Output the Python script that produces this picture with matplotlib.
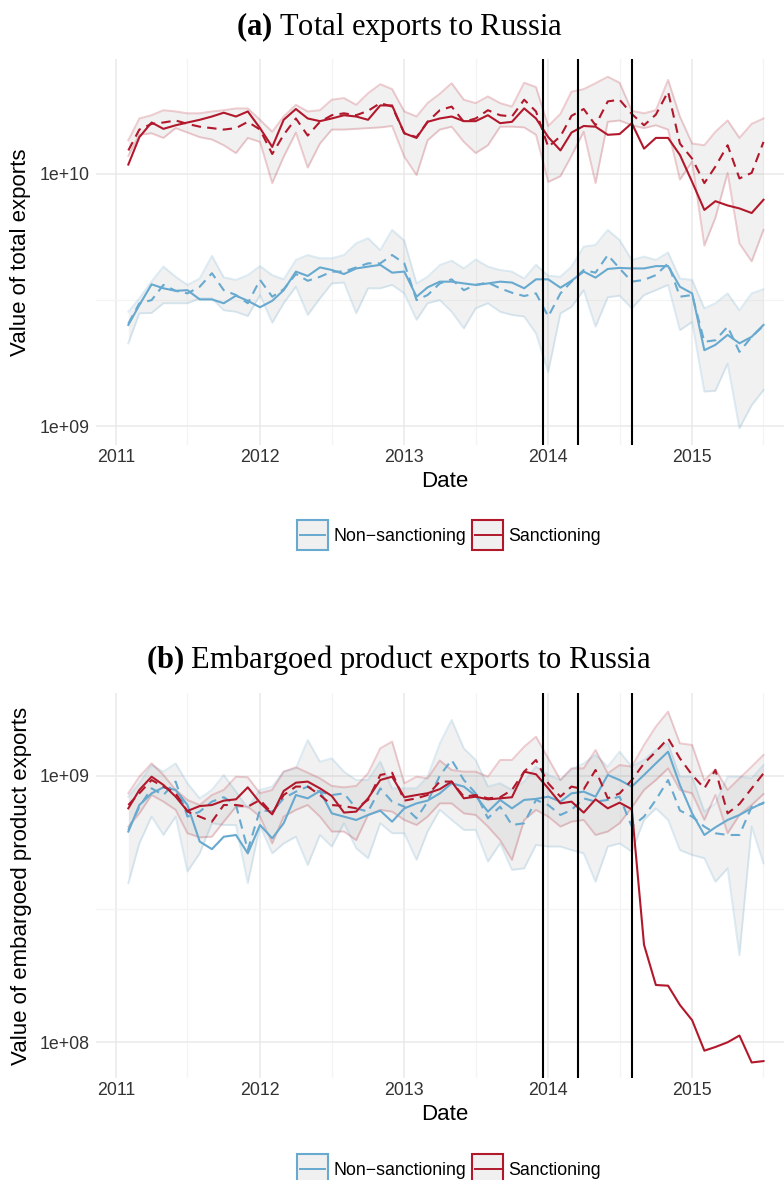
import matplotlib
matplotlib.use("Agg")
import matplotlib.pyplot as plt
import matplotlib.dates as mdates
from matplotlib.patches import Patch, Rectangle
from matplotlib.lines import Line2D
from matplotlib.legend_handler import HandlerBase
from matplotlib.ticker import FixedLocator, NullFormatter
import numpy as np
import pandas as pd

# ---------------- data ----------------
# monthly observations, Feb 2011 .. Jul 2015
dates = pd.date_range("2011-02-01", periods=54, freq="MS")

# panel (a) total exports, billions USD
tot_sanc = [10.9, 14.0, 16.0, 15.1, 15.6, 16.0, 16.4, 16.9, 17.5, 16.9,
            17.7, 15.2, 12.8, 16.4, 18.1, 16.6, 16.2, 16.6, 17.1, 16.9,
            16.4, 18.7, 18.7, 14.5, 13.9, 16.1, 16.6, 16.9, 16.2, 16.2,
            17.1, 15.9, 16.1, 18.2, 16.6, 14.0, 12.4, 14.6, 15.5, 15.4,
            14.3, 14.4, 15.9, 12.6, 13.9, 13.9, 11.9, 9.3, 7.2, 7.8,
            7.5, 7.3, 7.0, 7.9]
tot_sanc_cf = [12.4, 15.0, 15.8, 16.0, 16.3, 15.8, 15.4, 15.2, 15.0, 15.2,
               16.1, 15.0, 12.0, 14.3, 16.6, 14.2, 16.1, 17.1, 17.4, 17.1,
               17.8, 19.1, 18.5, 14.5, 14.0, 16.1, 17.9, 18.5, 16.1, 16.6,
               17.9, 17.1, 16.9, 19.7, 17.7, 12.8, 14.1, 17.0, 18.1, 15.6,
               19.4, 19.7, 17.3, 15.6, 17.2, 21.2, 13.2, 11.5, 9.2, 10.7,
               13.0, 9.6, 10.1, 13.4]
tot_sanc_hi = [13.6, 16.6, 17.1, 17.9, 17.7, 17.4, 17.4, 17.7, 17.9, 18.2,
               18.2, 16.4, 14.7, 16.9, 18.8, 17.7, 17.9, 19.7, 20.0, 18.8,
               20.9, 22.7, 21.7, 17.7, 16.9, 19.1, 20.8, 22.9, 19.7, 19.1,
               20.3, 19.1, 18.5, 23.0, 22.1, 15.5, 17.3, 21.2, 21.7, 22.9,
               24.3, 23.0, 17.8, 17.4, 17.9, 23.6, 16.9, 13.2, 13.0, 14.7,
               16.3, 13.9, 15.8, 16.6]
tot_sanc_lo = [11.8, 14.3, 14.5, 13.9, 15.2, 14.6, 14.0, 13.7, 13.0, 12.1,
               13.9, 13.4, 9.2, 11.7, 14.6, 10.6, 13.2, 15.0, 15.0, 15.1,
               15.2, 15.3, 15.5, 11.7, 9.9, 13.6, 15.0, 15.4, 13.4, 12.1,
               13.0, 15.4, 15.4, 15.3, 14.3, 9.3, 9.8, 11.8, 14.7, 9.2,
               16.1, 16.3, 15.6, 15.2, 15.6, 15.0, 9.5, 11.2, 5.2, 6.7,
               10.1, 5.3, 4.5, 6.0]
tot_non = [2.52, 3.02, 3.65, 3.52, 3.44, 3.46, 3.18, 3.18, 3.07, 3.29,
           3.14, 2.96, 3.14, 3.46, 4.10, 3.94, 4.26, 4.16, 4.01, 4.22,
           4.29, 4.36, 4.06, 4.10, 3.26, 3.55, 3.74, 3.74, 3.68, 3.63,
           3.68, 3.74, 3.71, 3.52, 3.82, 3.82, 3.54, 3.77, 4.10, 3.88,
           4.20, 4.24, 4.22, 4.22, 4.31, 4.31, 3.57, 3.36, 2.00, 2.10,
           2.30, 2.13, 2.26, 2.52]
tot_non_cf = [2.55, 3.07, 3.16, 3.63, 3.44, 3.36, 3.57, 4.04, 3.46, 3.31,
              3.07, 3.80, 3.26, 3.49, 4.01, 3.77, 3.91, 4.10, 4.10, 4.26,
              4.42, 4.42, 4.77, 4.42, 3.16, 3.31, 3.68, 3.82, 3.46, 3.63,
              3.71, 3.52, 3.38, 3.28, 3.36, 2.72, 3.36, 3.74, 4.16, 4.06,
              4.77, 4.22, 3.74, 3.80, 3.97, 4.42, 3.26, 3.31, 2.16, 2.19,
              2.48, 1.97, 2.26, 2.50]
tot_non_hi = [2.84, 3.21, 3.75, 4.29, 3.91, 3.63, 3.85, 4.73, 3.89, 3.80,
              3.97, 4.31, 3.97, 3.82, 4.56, 4.77, 4.63, 4.63, 4.77, 5.31,
              5.56, 4.99, 6.00, 5.44, 3.68, 3.91, 4.35, 4.53, 4.22, 4.58,
              4.29, 4.16, 4.10, 3.85, 4.36, 3.95, 3.91, 4.29, 5.15, 5.23,
              6.00, 5.47, 4.56, 4.70, 4.56, 4.88, 3.85, 3.80, 2.93, 3.07,
              3.36, 2.88, 3.36, 3.49]
tot_non_lo = [2.13, 2.80, 2.81, 3.07, 3.07, 3.07, 3.21, 3.21, 2.88, 2.84,
              2.73, 3.31, 2.57, 3.07, 3.57, 2.76, 3.21, 3.68, 3.71, 2.80,
              3.52, 3.52, 3.63, 3.36, 2.64, 3.07, 3.16, 2.84, 2.44, 2.93,
              3.07, 2.84, 2.76, 2.72, 2.33, 1.64, 2.80, 2.97, 3.46, 2.48,
              3.24, 3.29, 2.93, 3.31, 3.46, 3.63, 2.40, 2.59, 1.37, 1.38,
              1.77, 0.98, 1.21, 1.39]

# panel (b) embargoed product exports, millions USD
emb_sanc = [754, 884, 991, 923, 834, 737, 769, 776, 806, 815,
            904, 792, 716, 876, 941, 950, 896, 839, 727, 733,
            822, 963, 991, 830, 846, 859, 890, 950, 822, 834,
            815, 822, 830, 1035, 1012, 896, 787, 799, 727, 815,
            754, 792, 748, 232, 164, 163, 138, 121, 93, 96,
            100, 106, 84, 85]
emb_sanc_cf = [776, 859, 963, 910, 859, 733, 702, 672, 776, 776,
               765, 811, 722, 846, 910, 910, 846, 776, 769, 754,
               811, 1006, 1026, 806, 822, 846, 950, 950, 834, 846,
               822, 830, 884, 1035, 1145, 936, 834, 910, 889, 1050,
               822, 858, 963, 1112, 1230, 1380, 1161, 1006, 896, 1050,
               722, 783, 896, 1020]
emb_sanc_hi = [859, 991, 1112, 1006, 884, 811, 776, 846, 884, 991,
               986, 859, 884, 1035, 1075, 1026, 977, 915, 904, 915,
               1020, 1266, 1342, 936, 991, 977, 1140, 1050, 1035, 1035,
               991, 1145, 1145, 1284, 1400, 1161, 963, 1065, 1065, 1248,
               1020, 1096, 1081, 1303, 1527, 1738, 1322, 1303, 960, 1056,
               884, 977, 1081, 1196]
emb_sanc_lo = [644, 722, 846, 799, 744, 608, 587, 590, 672, 765,
               765, 702, 557, 702, 744, 776, 702, 617, 617, 573,
               712, 744, 733, 682, 653, 702, 787, 787, 722, 712,
               644, 573, 483, 682, 744, 702, 644, 672, 682, 599,
               617, 663, 760, 884, 963, 1065, 884, 858, 682, 846,
               608, 712, 776, 853]
emb_non = [617, 776, 858, 904, 884, 776, 566, 530, 590, 599,
           511, 653, 582, 663, 846, 822, 876, 722, 702, 682,
           712, 739, 672, 754, 787, 806, 858, 936, 910, 839,
           733, 811, 754, 811, 818, 834, 799, 858, 871, 834,
           1006, 963, 910, 1006, 1112, 1230, 923, 722, 599, 640,
           682, 712, 754, 792]
emb_non_cf = [626, 765, 896, 846, 950, 702, 733, 799, 830, 776,
              526, 744, 733, 822, 871, 910, 871, 846, 858, 754,
              733, 896, 799, 765, 692, 799, 1000, 1145, 963, 858,
              692, 765, 653, 663, 811, 776, 712, 744, 822, 799,
              811, 834, 644, 702, 811, 963, 740, 702, 644, 608,
              599, 599, 765, 787]
emb_non_hi = [834, 936, 1096, 1035, 1112, 936, 822, 884, 1006, 871,
              754, 884, 910, 1035, 1065, 1361, 1128, 1161, 1035, 963,
              963, 1128, 896, 896, 896, 991, 1320, 1617, 1266, 1145,
              910, 936, 884, 950, 1081, 1006, 963, 1056, 1112, 1196,
              1081, 1230, 1081, 1145, 1248, 1322, 991, 991, 733, 787,
              991, 991, 977, 1096]
emb_non_lo = [395, 557, 702, 599, 702, 437, 511, 663, 653, 653,
              395, 648, 511, 557, 590, 462, 599, 542, 663, 534,
              490, 663, 608, 608, 483, 617, 744, 682, 626, 626,
              476, 557, 443, 449, 550, 542, 542, 526, 511, 400,
              542, 557, 519, 682, 754, 682, 526, 504, 490, 400,
              449, 212, 644, 469]

event_dates = ["2013-12-18", "2014-03-17", "2014-08-01"]
group_labels = ["Non\u2212sanctioning", "Sanctioning"]

BLUE = "#67a9cf"
RED = "#b2182b"

plt.rcParams["font.family"] = ["Liberation Sans", "DejaVu Sans"]
plt.rcParams["mathtext.fontset"] = "custom"
plt.rcParams["mathtext.rm"] = "Liberation Serif"
plt.rcParams["mathtext.bf"] = "Liberation Serif:bold"

W, H = 784, 1180
fig = plt.figure(figsize=(W / 100, H / 100), dpi=100)


class BoxKey(HandlerBase):
    """ggplot-style key: grey box with coloured border and a line through the middle."""

    def create_artists(self, legend, orig_handle, xdescent, ydescent,
                       width, height, fontsize, trans):
        col = orig_handle.get_edgecolor()
        box = Rectangle((-xdescent, -ydescent), width, height,
                        facecolor="#f0f0f0", edgecolor=col, lw=1.5, transform=trans)
        yc = -ydescent + height / 2
        ln = Line2D([-xdescent + 2, -xdescent + width - 2], [yc, yc],
                    color=col, lw=1.4, transform=trans)
        return [box, ln]


def px_rect(left, top, right, bottom):
    return [left / W, 1 - bottom / H, (right - left) / W, (bottom - top) / H]


def draw_panel(ax, groups, scale, ylims, yticks, ylabels, yminor):
    for lo, hi, mid, cf, col in groups:
        lo = np.asarray(lo) * scale
        hi = np.asarray(hi) * scale
        ax.fill_between(dates, lo, hi, color="#7f7f7f", alpha=0.1, lw=0, zorder=2)
        ax.plot(dates, lo, color=col, alpha=0.22, lw=1.4, zorder=3)
        ax.plot(dates, hi, color=col, alpha=0.22, lw=1.4, zorder=3)
    for lo, hi, mid, cf, col in groups:
        ax.plot(dates, np.asarray(mid) * scale, color=col, lw=1.5, zorder=4)
        ax.plot(dates, np.asarray(cf) * scale, color=col, lw=1.5,
                dashes=(4.5, 3), zorder=4)
    for d in event_dates:
        ax.axvline(pd.Timestamp(d), color="black", lw=1.5, zorder=5)

    ax.set_yscale("log")
    ax.set_ylim(*ylims)
    ax.yaxis.set_major_locator(FixedLocator(yticks))
    ax.set_yticklabels(ylabels)
    ax.yaxis.set_minor_locator(FixedLocator(yminor))
    ax.yaxis.set_minor_formatter(NullFormatter())

    ax.set_xlim(pd.Timestamp("2010-11-11"), pd.Timestamp("2015-08-22"))
    ax.xaxis.set_major_locator(mdates.YearLocator())
    ax.xaxis.set_major_formatter(mdates.DateFormatter("%Y"))
    ax.xaxis.set_minor_locator(mdates.MonthLocator(bymonth=7))

    ax.grid(True, which="major", color="#ebebeb", lw=1.2, zorder=0)
    ax.grid(True, which="minor", color="#f4f4f4", lw=0.9, zorder=0)
    ax.set_axisbelow(True)
    for s in ax.spines.values():
        s.set_visible(False)
    ax.tick_params(which="both", length=0, labelsize=12.8, labelcolor="#333333")
    ax.tick_params(axis="y", pad=4.3)
    ax.tick_params(axis="x", pad=3.0)


def add_legend(ycenter):
    handles = [Patch(edgecolor=col) for col in (BLUE, RED)]
    fig.legend(handles, group_labels, loc="center", ncol=2, frameon=False,
               bbox_to_anchor=(449 / W, 1 - ycenter / H), fontsize=12.8,
               handlelength=1.75, handleheight=2.3, handletextpad=0.3,
               columnspacing=0.35, borderpad=0.2,
               handler_map={Patch: BoxKey()})


# ---------- panel (a) ----------
ax1 = fig.add_axes(px_rect(96, 59, 784, 445))
draw_panel(ax1,
           [(tot_non_lo, tot_non_hi, tot_non, tot_non_cf, BLUE),
            (tot_sanc_lo, tot_sanc_hi, tot_sanc, tot_sanc_cf, RED)],
           1e9, (10 ** 8.925, 10 ** 10.456), [1e9, 1e10], ["1e+09", "1e+10"],
           [10 ** 9.5])
fig.text(399 / W, 1 - 27 / H, r"$\mathbf{(a)}$ Total exports to Russia",
         family="Liberation Serif", size=22, ha="center", va="center")
fig.text(21 / W, 1 - 252 / H, "Value of total exports", rotation=90,
         size=16, ha="center", va="center")
fig.text(445 / W, 1 - 481 / H, "Date", size=16, ha="center", va="center")
add_legend(535)

# ---------- panel (b) ----------
ax2 = fig.add_axes(px_rect(96, 693, 784, 1078))
draw_panel(ax2,
           [(emb_non_lo, emb_non_hi, emb_non, emb_non_cf, BLUE),
            (emb_sanc_lo, emb_sanc_hi, emb_sanc, emb_sanc_cf, RED)],
           1e6, (10 ** 7.866, 10 ** 9.310), [1e8, 1e9], ["1e+08", "1e+09"],
           [10 ** 8.5])
fig.text(399 / W, 1 - 660 / H, r"$\mathbf{(b)}$ Embargoed product exports to Russia",
         family="Liberation Serif", size=22, ha="center", va="center")
fig.text(22 / W, 1 - 886 / H, "Value of embargoed product exports", rotation=90,
         size=16, ha="center", va="center")
fig.text(445 / W, 1 - 1115 / H, "Date", size=16, ha="center", va="center")
add_legend(1169)

fig.savefig("out.png", dpi=100)
